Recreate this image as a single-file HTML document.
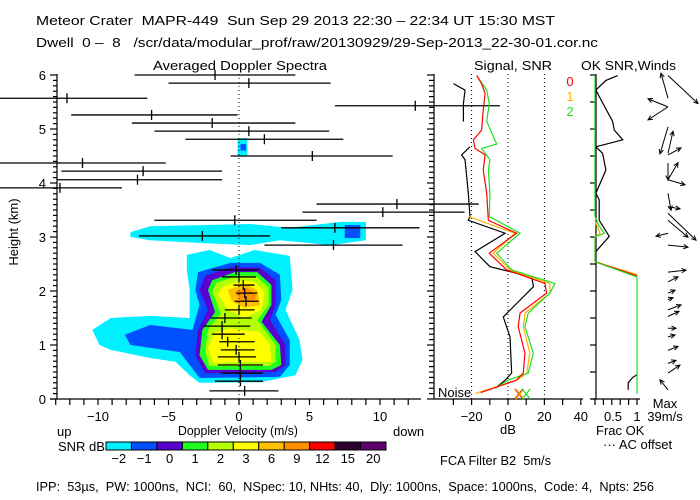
<!DOCTYPE html>
<html><head><meta charset="utf-8"><style>
html,body{margin:0;padding:0;background:#fff;}
svg{display:block;font-family:"Liberation Sans",sans-serif;}
text{font-size:13px;fill:#000;white-space:pre;}
</style></head><body>
<svg id="chart" width="700" height="500" viewBox="0 0 700 500" xml:space="preserve">
<rect x="0" y="0" width="700" height="500" fill="#fff"/>
<text x="36" y="25" textLength="519" lengthAdjust="spacingAndGlyphs">Meteor Crater  MAPR-449  Sun Sep 29 2013 22:30 – 22:34 UT 15:30 MST</text>
<text x="36" y="47" textLength="562" lengthAdjust="spacingAndGlyphs">Dwell  0 –  8   /scr/data/modular_prof/raw/20130929/29-Sep-2013_22-30-01.cor.nc</text>
<text x="153" y="70" textLength="174" lengthAdjust="spacingAndGlyphs">Averaged Doppler Spectra</text>
<text x="474" y="70" textLength="78" lengthAdjust="spacingAndGlyphs">Signal, SNR</text>
<text x="581" y="70" textLength="95" lengthAdjust="spacingAndGlyphs">OK SNR,Winds</text>
<g id="plot"></g>
<text x="57" y="436">up</text>
<text x="178" y="435" textLength="120" lengthAdjust="spacingAndGlyphs">Doppler Velocity (m/s)</text>
<text x="393" y="436">down</text>
<text x="58" y="451">SNR dB</text>
<text x="500" y="434">dB</text>
<text x="596" y="435">Frac OK</text>
<text x="603" y="449">··· AC offset</text>
<text x="665" y="408" text-anchor="middle">Max</text>
<text x="665" y="421" text-anchor="middle">39m/s</text>
<text x="440" y="465" textLength="111" lengthAdjust="spacingAndGlyphs">FCA Filter B2  5m/s</text>
<text x="438" y="397" font-size="12">Noise</text>
<text x="36" y="491" textLength="618" lengthAdjust="spacingAndGlyphs">IPP:  53µs,  PW: 1000ns,  NCI:  60,  NSpec: 10, NHts: 40,  Dly: 1000ns,  Space: 1000ns,  Code: 4,  Npts: 256</text>
</svg>
<script>
// ---- data ----
const specH  = [6.0,5.85,5.57,5.43,5.26,5.11,4.96,4.81,4.5,4.37,4.22,4.06,3.91,3.61,3.46,3.31,3.17,3.02,2.85,2.39,2.26,2.11,1.96,1.81,1.65,1.5,1.35,1.2,1.06,0.91,0.78,0.63,0.48,0.33,0.15];
const specLo = [-7.4,-5.0,-17,6.8,-11.9,-7.6,-6.0,-3.8,-0.6,-17,-12.6,-12.9,-17,5.5,4.5,-6.0,3.0,-7.1,1.8,-1.9,-1.2,-0.4,-0.2,-0.3,-1.0,-2.0,-2.5,-1.9,-1.4,-1.3,-1.5,-1.5,-1.3,-1.7,-2.1];
const specMean=[-1.7,0.7,-12.2,12.5,-6.2,-1.9,0.7,1.8,5.2,-11.1,-6.8,-7.2,-12.7,11.2,10.2,-0.3,6.8,-2.6,6.7,-0.2,0.0,0.3,0.4,0.5,0.0,-1.0,-1.2,-1.2,-0.8,-0.2,0.0,0.1,0.1,0.1,0.4];
const specHi = [4.0,6.5,-6.5,18.5,-0.1,4.0,6.4,7.4,10.9,-5.2,-1.2,-1.2,-8.3,17,16,5.5,12.8,2.2,11.6,1.4,1.2,1.1,1.3,1.4,1.1,0.9,0.8,0.4,1.1,1.1,1.2,1.7,1.7,1.7,2.8];

const cbLabels = ["-2","-1","0","1","2","3","6","9","12","15","20"];
const cbColors = ["#00f0ff","#0050ff","#5a00d0","#20ff20","#b4ff00","#ffff00","#ffc000","#ff9000","#ff0000","#300030","#600070"];

const contourCyanBand = [[-7.7,3.09],[-6.3,3.2],[0.8,3.24],[3.6,3.17],[7.2,3.28],[9.0,3.28],[9.0,2.94],[6.5,2.85],[2.9,2.94],[0.8,2.85],[-2.8,2.89],[-6.3,2.94],[-7.7,3.0]];
const contourBlueBand = [[7.5,3.22],[8.6,3.22],[8.6,2.98],[7.5,2.98]];
const contourCyan = [[-3.7,2.67],[-2.1,2.76],[-0.6,2.61],[1.1,2.76],[3.6,2.65],[3.8,2.02],[3.3,1.65],[4.3,1.09],[4.5,0.72],[4.0,0.44],[1.5,0.31],[-2.8,0.3],[-3.5,0.44],[-4.5,0.69],[-6.3,0.76],[-9.1,0.91],[-9.9,1.0],[-10.4,1.28],[-9.1,1.5],[-6.3,1.54],[-3.5,1.5],[-3.5,2.02],[-3.7,2.39]];
const contourBlue = [[-2.9,2.35],[-0.6,2.52],[1.5,2.52],[2.9,2.3],[3.0,1.83],[2.6,1.56],[3.6,1.09],[3.6,0.63],[2.9,0.41],[-2.8,0.39],[-3.5,0.63],[-4.2,0.87],[-7.7,1.0],[-8.1,1.19],[-6.3,1.37],[-3.3,1.28],[-2.8,1.74],[-3.1,2.02]];
const contourPurple = [[-2.4,2.28],[-0.6,2.44],[1.5,2.43],[2.6,2.2],[2.6,1.74],[2.2,1.46],[3.3,1.0],[3.3,0.63],[2.6,0.5],[-2.4,0.48],[-3.1,0.81],[-2.9,1.28],[-2.2,1.65],[-2.8,2.02]];
const contourGreen = [[-1.9,2.2],[-0.3,2.35],[1.3,2.35],[2.3,2.11],[2.3,1.74],[1.6,1.43],[2.9,1.0],[3.0,0.63],[2.3,0.54],[-2.2,0.54],[-2.8,0.81],[-2.6,1.28],[-1.7,1.61],[-2.2,2.02]];
const contourYGreen = [[-1.6,2.15],[-0.1,2.28],[1.2,2.28],[2.1,2.06],[2.1,1.74],[1.3,1.46],[2.6,1.0],[2.6,0.69],[2.1,0.61],[-2.1,0.61],[-2.4,0.87],[-2.2,1.28],[-1.3,1.59],[-1.9,1.98]];
const contourYellowTop = [[-1.2,2.07],[0.1,2.2],[1.1,2.17],[1.8,1.98],[1.6,1.65],[0.4,1.5],[-0.8,1.65],[-1.5,1.93]];
const contourYellowBot = [[-1.7,1.24],[-0.6,1.31],[1.5,1.24],[2.2,1.0],[2.3,0.69],[-1.8,0.67],[-2.2,0.94]];
const contourOrange6 = [[-0.8,2.02],[0.4,2.13],[1.3,2.02],[1.5,1.74],[0.4,1.69],[-0.5,1.8]];
const contourOrange9 = [[-0.3,1.98],[0.6,2.06],[1.2,1.93],[1.1,1.8],[0.2,1.8]];
const contourSmallCyan = [[-0.1,4.83],[0.6,4.83],[0.6,4.5],[-0.1,4.5]];
const contourSmallBlue = [[0.1,4.72],[0.5,4.72],[0.5,4.6],[0.1,4.6]];

const snrRed = [[5.99,-17.2],[5.84,-14.5],[5.66,-12.6],[5.35,-13.6],[4.98,-14.5],[4.80,-19],[4.64,-18.1],[4.52,-12.6],[4.24,-13.6],[3.81,-11.7],[3.31,-10.8],[3.07,4.7],[2.70,-10.3],[2.39,-0.7],[2.14,20.3],[1.96,21.2],[1.59,6.6],[1.34,5.6],[0.85,9.3],[0.48,8.4],[0.35,4.7],[0.12,-15]];
const snrOrange = [[3.38,-21.8],[3.07,3.8],[2.70,-8.1],[2.39,1.1],[2.14,23],[1.96,23],[1.59,9.3],[1.34,8.4],[0.85,12],[0.48,10.3],[0.35,5],[0.1,-18]];
const snrGreen = [[5.99,-17.2],[5.72,-11.7],[5.47,-10.3],[5.14,-11.7],[4.72,-6.2],[4.64,-14.5],[4.43,-9.9],[4.24,-10.8],[3.81,-9.9],[3.38,-10.3],[3.07,6.6],[2.70,-6.2],[2.39,2],[2.14,25.8],[1.96,23],[1.59,11.1],[1.34,9.3],[0.85,13.9],[0.48,11.1],[0.35,0],[0.2,-7]];
const signalUpper = [[5.84,-30],[5.72,-23.6],[5.47,-24.5],[5.14,-24.5]];
const signalLower = [[4.67,-20.9],[4.52,-25.5],[4.43,-23.6],[3.81,-21.8],[3.38,-20.9],[3.31,-21.8],[3.07,-1.6],[2.73,-18.1],[2.45,-9.9],[2.26,13.0],[2.08,14],[1.52,-2.6],[1.15,1.1],[0.48,2],[0.35,-1.5],[0.2,-7]];
const noiseDb = [6, 6.5, 10];

const fracGreen = [[0.1,1],[2.26,1],[2.54,0],[3.0,0],[3.07,0.22],[3.2,0.1],[3.38,0],[6.0,0]];
const fracOrange = [[2.30,1.02],[2.54,0],[3.0,0],[3.07,0.12],[3.3,0]];
const fracRed = [[2.28,1],[2.54,0.02]];
const fracBlack = [[5.99,0.54],[5.9,0.26],[5.72,0.02],[5.14,0.42],[4.98,0.46],[4.8,0.66],[4.67,0.02],[4.55,0.18],[4.24,0.26],[3.81,0.02],[3.69,0.1],[3.31,0.1],[3.01,0.34],[2.73,0.02]];
const fracBlackLow = [[0.17,0.79],[0.3,0.79],[0.4,0.9],[0.45,1]];

const windH = [5.99,5.57,5.41,5.41,5.04,4.55,4.52,4.37,4.06,4.06,3.81,3.56,3.44,3.31,3.07,2.85,2.35,2.17,1.96,1.84,1.65,1.53,1.31,1.15,0.9,0.66,0.48,0.17];
const windU = [30,-7,-20,-20,-8,5,13,0,10,17,3,12,28,20,-12,20,18,10,7,5,13,11,8,7,10,8,12,-8];
const windV = [-28,25,8,-13,-27,22,7,-17,17,-5,-17,-2,-27,-17,-3,-2,2,5,3,2,5,5,0,2,4,3,8,10];

// ---- scales ----
const xv = v => 239 + 14.1*v;
const yh = h => 399 - 54*h;
const xd = d => 508 + 1.82*d;
const xf = f => 595 + 42*f;
const NS = "http://www.w3.org/2000/svg";
const root = document.getElementById('plot');
function mk(tag, attrs, parent){const e=document.createElementNS(NS,tag);for(const k in attrs)e.setAttribute(k,attrs[k]);(parent||root).appendChild(e);return e;}

const defs = mk('defs',{});
const cp = mk('clipPath',{id:'mainclip'},defs);
mk('rect',{x:57,y:74,width:377,height:325},cp);

const gc = mk('g',{'clip-path':'url(#mainclip)'});


function poly(pts, color, name){
  const p = mk('polygon',{points:pts.map(q=>xv(q[0])+','+yh(q[1])).join(' '),fill:color},gc);
  
  
}
poly(contourCyanBand, cbColors[0], 'contour-band-cyan');
poly(contourBlueBand, cbColors[1], 'contour-band-blue');
poly(contourCyan, cbColors[0], 'contour-cyan');
poly(contourBlue, cbColors[1], 'contour-blue');
poly(contourPurple, cbColors[2], 'contour-purple');
poly(contourGreen, cbColors[3], 'contour-green');
poly(contourYGreen, cbColors[4], 'contour-yellowgreen');
poly(contourYellowTop, cbColors[5], 'contour-yellow-top');
poly(contourYellowBot, cbColors[5], 'contour-yellow-bottom');
poly(contourOrange6, cbColors[6], 'contour-orange');
poly(contourOrange9, cbColors[7], 'contour-dark-orange');
poly(contourSmallCyan, cbColors[0], 'contour-small-cyan');
poly(contourSmallBlue, cbColors[1], 'contour-small-blue');

const zl = mk('line',{x1:xv(0),y1:74,x2:xv(0),y2:399,stroke:'#000','stroke-dasharray':'1 3'});



for(let i=0;i<specH.length;i++){
  const g = mk('g',{});
  
  
  mk('line',{x1:xv(specLo[i]),x2:xv(specHi[i]),y1:yh(specH[i]),y2:yh(specH[i]),stroke:'#000','stroke-width':1.3},g);
  mk('line',{x1:xv(specMean[i]),x2:xv(specMean[i]),y1:yh(specH[i])-5,y2:yh(specH[i])+5,stroke:'#000','stroke-width':1.3},g);
}

const ax = mk('g',{stroke:'#000','stroke-width':1.2,fill:'none'});


mk('line',{x1:57,y1:74,x2:57,y2:399},ax);
mk('line',{x1:50,y1:399,x2:421,y2:399},ax);
mk('line',{x1:434,y1:74,x2:434,y2:399},ax);
mk('line',{x1:434,y1:399,x2:583,y2:399},ax);
mk('line',{x1:596,y1:74,x2:596,y2:399},ax);
mk('line',{x1:591,y1:399,x2:640,y2:399},ax);
for(let k=0;k<=60;k++){
  const y = yh(k/10), major = k%10===0;
  mk('line',{x1:57-(major?7:4),x2:57,y1:y,y2:y},ax);
  mk('line',{x1:434-(major?7:5),x2:434,y1:y,y2:y},ax);
  if(k%5===0) mk('line',{x1:590,x2:596,y1:y,y2:y},ax);
}
for(let v=-13;v<=12;v++){ mk('line',{x1:xv(v),x2:xv(v),y1:399,y2:405},ax); }
for(let d=-30;d<=40;d+=10){ mk('line',{x1:xd(d),x2:xd(d),y1:399,y2:405},ax); }
for(let f=0;f<=5;f++){ mk('line',{x1:xf(f/5),x2:xf(f/5),y1:399,y2:405},ax); }

const yTicks = ["0","1","2","3","4","5","6"];
yTicks.forEach((t,i)=>{const e=mk('text',{x:46,y:yh(i)+5,'text-anchor':'end'});e.textContent=t;
  
  });
const xTicks = [-10,-5,0,5,10];
xTicks.forEach(v=>{const e=mk('text',{x:xv(v),y:421,'text-anchor':'middle'});e.textContent=(v<0?'−':'')+Math.abs(v);
  
  });
const dbTicks = [-20,0,20,40];
dbTicks.forEach(v=>{const e=mk('text',{x:xd(v),y:421,'text-anchor':'middle'});e.textContent=(v<0?'−':'')+Math.abs(v);
  
  });
const fracTicks = [["0.5",0.5],["1",1]];
fracTicks.forEach(t=>{const e=mk('text',{x:xf(t[1])-(t[1]===1?0:3),y:421,'text-anchor':'middle'});e.textContent=t[0];
  
  });
const yt = mk('text',{x:0,y:0,transform:'translate(18,232) rotate(-90)','text-anchor':'middle'});
yt.textContent='Height (km)';



[-20,0,20].forEach(d=>{const l=mk('line',{x1:xd(d),x2:xd(d),y1:74,y2:399,stroke:'#000','stroke-dasharray':'1 3'});
  
  });

function pline(pts, fx, color, name, w){
  const p = mk('polyline',{points:pts.map(q=>fx(q[1])+','+yh(q[0])).join(' '),fill:'none',stroke:color,'stroke-width':w||1.2});
  
  
}
pline(signalUpper, xd, '#000', 'signal-line-upper');
pline(signalLower, xd, '#000', 'signal-line');
pline(snrOrange, xd, '#ffb000', 'snr-line-1');
pline(snrGreen, xd, '#20e020', 'snr-line-2');
pline(snrRed, xd, '#ff0000', 'snr-line-0');
const noiseColors = ['#ff0000','#ffb000','#20e020'];
noiseDb.forEach((d,i)=>{
  const g = mk('g',{stroke:noiseColors[i],'stroke-width':1.2});
  
  
  const x=xd(d), y=394;
  mk('line',{x1:x-4,y1:y-5,x2:x+4,y2:y+5},g);
  mk('line',{x1:x-4,y1:y+5,x2:x+4,y2:y-5},g);
});
const legendTxt = ["0","1","2"];
legendTxt.forEach((t,i)=>{const e=mk('text',{x:570,y:86+i*15,'text-anchor':'middle'});e.textContent=t;
  e.style.fill = noiseColors[i];
  
  });

pline(fracBlack, xf, '#000', 'frac-ok-ac-line');
pline(fracBlackLow, xf, '#000', 'frac-ok-ac-line-low');
pline(fracOrange, xf, '#ffb000', 'frac-ok-line-1');
pline(fracRed, xf, '#ff0000', 'frac-ok-line-0');
pline(fracGreen, xf, '#20e020', 'frac-ok-line-2');

for(let i=0;i<windH.length;i++){
  const x0=668, y0=yh(windH[i]), x1=x0+windU[i], y1=y0-windV[i];
  const g = mk('g',{stroke:'#000','stroke-width':1,fill:'none'});
  
  
  mk('line',{x1:x0,y1:y0,x2:x1,y2:y1},g);
  const a=Math.atan2(y1-y0,x1-x0), L=5;
  mk('polyline',{points:`${x1-L*Math.cos(a-0.45)},${y1-L*Math.sin(a-0.45)} ${x1},${y1} ${x1-L*Math.cos(a+0.45)},${y1-L*Math.sin(a+0.45)}`},g);
}

const cb = mk('g',{});


const cbw = 280/cbColors.length;
cbColors.forEach((c,i)=>{
  const r=mk('rect',{x:106+i*cbw,y:442,width:cbw,height:8,fill:c,stroke:'#000','stroke-width':1},cb);
  
  
  const t=mk('text',{x:106+i*cbw+cbw/2,y:463,'text-anchor':'middle'},cb);
  t.textContent=cbLabels[i].replace('-','−');
  
  
});
</script>
</body></html>
